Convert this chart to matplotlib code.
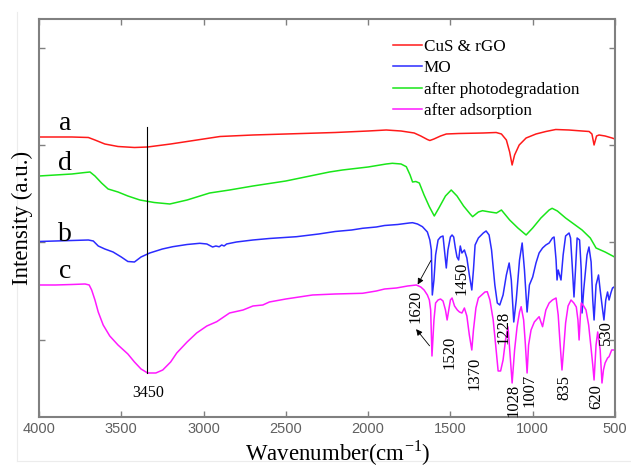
import numpy as np
import matplotlib
matplotlib.use("Agg")
from matplotlib import pyplot as plt
from matplotlib.lines import Line2D

plt.rcParams['font.family'] = ['Liberation Serif', 'DejaVu Serif']

# --- spectra: wavenumber (cm-1), intensity (a.u., offset stacked) ---
wn_a = [4000, 3800, 3700, 3660, 3600, 3520, 3420, 3340, 3200, 3000, 2900, 2700, 2400, 2200,
        2000, 1890, 1800, 1720, 1680, 1640, 1625, 1600, 1560, 1525, 1450, 1300, 1222, 1190,
        1160, 1140, 1125, 1110, 1082, 1040, 980, 920, 860, 780, 700, 657, 640, 627, 612, 597,
        560, 518, 500]
int_a = [280, 280, 279.5, 277, 273, 270.5, 269.5, 270, 273, 278, 280.5, 282, 283.5, 284.5,
         286, 287, 286, 284, 281, 277.5, 276.5, 278, 281, 283, 283.5, 284, 284.5, 283,
         277, 265, 252, 262, 272, 279, 283, 285.5, 287.5, 287, 286, 285.5, 283, 272, 281, 282,
         281, 279, 278]

wn_d = [4000, 3900, 3800, 3720, 3690, 3660, 3620, 3580, 3520, 3460, 3387, 3300, 3205, 3100,
        2963, 2842, 2700, 2500, 2235, 2156, 2000, 1890, 1853, 1800, 1768, 1745, 1730, 1710,
        1689, 1660, 1628, 1598, 1570, 1530, 1495, 1460, 1420, 1380, 1365, 1330, 1305, 1260,
        1220, 1190, 1140, 1090, 1040, 1000, 950, 900, 882, 850, 800, 750, 700, 650, 615, 560,
        506, 500]
int_d = [241, 242, 243, 244.5, 245, 241, 234, 228, 225, 221, 217, 214.5, 213, 217,
         224, 227, 231, 236, 245, 247, 250, 253, 253.7, 253, 250.3, 242, 235, 235.5,
         234, 222, 210.3, 201, 209, 221, 227, 221, 211, 203, 200.3, 205, 206.3, 205,
         204, 207, 197, 189, 182, 189, 199, 207, 208.7, 206, 199, 193, 187, 179, 169, 165,
         160.3, 160]

wn_b = [4000, 3900, 3800, 3700, 3670, 3640, 3600, 3550, 3500, 3460, 3420, 3380, 3327, 3250,
        3187, 3100, 3023, 2980, 2945, 2925, 2905, 2890, 2875, 2860, 2800, 2700, 2600, 2435,
        2300, 2200, 2100, 2034, 1950, 1900, 1820, 1750, 1730, 1700, 1670, 1640, 1625, 1616,
        1610, 1600, 1590, 1575, 1560, 1545, 1535, 1525, 1515, 1500, 1490, 1480, 1470, 1460,
        1450, 1440, 1430, 1415, 1400, 1385, 1370, 1360, 1350, 1330, 1300, 1283, 1265, 1250,
        1230, 1215, 1200, 1180, 1160, 1143, 1130, 1115, 1100, 1080, 1064, 1050, 1034, 1020,
        1000, 980, 961, 940, 920, 900, 880, 870, 858, 852, 845, 828, 815, 800, 779, 770, 760,
        749, 740, 730, 715, 705, 700, 690, 670, 658, 645, 635, 627, 615, 600, 590, 575, 567,
        556, 545, 536, 525, 515, 506, 500]
int_b = [175.5, 176, 176.5, 177, 176, 171, 168, 165, 160, 155.5, 155, 160, 164, 168,
         170.3, 172.5, 173.7, 173, 170, 171, 170.2, 172, 171, 173, 175, 177, 178.5, 180.3,
         183, 185.5, 187, 188.7, 190, 191.5, 192.5, 194, 194.3, 193, 190.3, 185, 177, 167,
         122, 137, 162, 177, 180, 181, 165, 149, 167, 180, 182, 180, 169, 160,
         157, 171, 164, 167, 159, 142, 127, 147, 172, 179, 184, 186, 182, 167,
         132, 114, 112, 122, 142, 154, 137, 95, 117, 157, 174, 147, 105, 132,
         140, 154, 164, 169, 172, 174, 179, 180, 157, 137, 147, 137, 162, 181, 184, 179, 152,
         120, 147, 179, 177, 147, 104, 127, 162, 170, 155, 117, 97, 132, 142, 127, 107, 97,
         117, 125, 117, 124, 129, 130, 128]

wn_c = [4000, 3900, 3800, 3720, 3695, 3680, 3660, 3640, 3610, 3570, 3520, 3460, 3420, 3380,
        3340, 3290, 3248, 3200, 3163, 3100, 3042, 2980, 2920, 2842, 2760, 2700, 2640, 2600,
        2500, 2338, 2200, 2034, 1950, 1900, 1828, 1760, 1707, 1680, 1660, 1640, 1628, 1620,
        1612, 1600, 1590, 1575, 1560, 1545, 1530, 1520, 1510, 1500, 1490, 1475, 1458, 1445,
        1430, 1415, 1400, 1385, 1370, 1360, 1345, 1330, 1310, 1290, 1276, 1260, 1240, 1225,
        1210, 1195, 1180, 1165, 1150, 1135, 1125, 1110, 1095, 1080, 1070, 1055, 1045, 1034,
        1025, 1010, 990, 961, 950, 940, 920, 900, 880, 858, 845, 835, 822, 810, 800, 785, 767,
        750, 735, 725, 718, 710, 705, 690, 676, 660, 646, 635, 627, 615, 605, 590, 579, 570,
        560, 545, 536, 520, 505, 500]
int_c = [132, 132, 132.5, 133, 132, 127, 117, 105, 92, 81, 72, 63, 55, 48,
         44, 44, 47, 55, 64, 75, 84, 91, 95.3, 104, 107, 111, 112, 115,
         118, 122, 123, 123.7, 126, 128, 129, 131, 132, 130, 127, 122, 117, 107,
         61, 97, 114, 117, 118, 116, 107, 97, 107, 117, 119, 111, 107, 105,
         104, 109, 101, 82, 67, 87, 109, 119, 122, 125, 125.3, 117, 97, 72,
         46, 46, 57, 77, 90, 57, 34, 67, 90, 105, 110.3, 97, 74, 44,
         72, 87, 95, 100.3, 95, 90.3, 107, 114, 117, 119, 102, 77, 47, 72, 94, 111, 117,
         114, 110, 97, 77, 102, 114, 111, 107, 92, 70, 52, 37, 72, 85, 67, 34, 47,
         54, 59, 60.3, 67, 67, 67]

# peak labels (rotated), positions in data coords
peak_text = ['1450', '1520', '1370', '1228', '1028', '1007', '835', '620', '530']
peak_x = [1434, 1507, 1355, 1179, 1119, 1022, 809, 615, 555]
peak_y = [139, 65, 44, 90, 17, 27, 29, 20, 84]

curve_names = ['CuS & rGO', 'MO', 'after photodegradation', 'after adsorption']
curve_letters = ['a', 'd', 'b', 'c']
letter_y = [287, 247, 176, 139]

fig = plt.figure(figsize=(6.31, 4.68), dpi=100)
ax = fig.add_axes([0.0618, 0.109, 0.9128, 0.8504])

l1, = ax.plot(wn_a, int_a, color='#ff1a1a', lw=1.1)
l2, = ax.plot(wn_b, int_b, color='#2b2bff', lw=1.1)
l3, = ax.plot(wn_d, int_d, color='#19e619', lw=1.1)
l4, = ax.plot(wn_c, int_c, color='#ff19ff', lw=1.1)

ax.set_xlim(4000, 500)
ax.set_ylim(0, 398)
ax.set_xticks(np.arange(4000, 499, -500))
ax.set_yticks([77, 175, 272, 369])
ax.set_yticklabels([])
ax.tick_params(direction='in', top=True, right=True, length=4, width=1,
               color='#808080', labelcolor='#606060', labelsize=10.5)
for lab in ax.get_xticklabels():
    lab.set_family('Liberation Sans')
for sp in ax.spines.values():
    sp.set_color('#808080')
    sp.set_linewidth(1.5)

ax.set_xlabel('Wavenumber(cm$^{\\mathregular{-1}}$)', fontsize=16.5)
ax.xaxis.set_label_coords(0.519, -0.055)
ax.set_ylabel('Intensity (a.u.)', fontsize=16.5, labelpad=1)

for t, yv in zip(curve_letters, letter_y):
    ax.text(3842, yv, t, fontsize=20, ha='center', va='baseline')

# 3450 marker line
ax.plot([3345, 3345], [44, 290], color='black', lw=0.8)
ax.text(3339, 24, '3450', fontsize=11.5, ha='center', va='center')

# 1620 with two arrows
ax.text(1712, 111, '1620', fontsize=12, rotation=90, ha='center', va='center')
ax.annotate('', xy=(1707, 130), xytext=(1610, 159),
            arrowprops=dict(arrowstyle='-|>', color='black', lw=0.6, mutation_scale=9))
ax.annotate('', xy=(1719, 90), xytext=(1616, 69),
            arrowprops=dict(arrowstyle='-|>', color='black', lw=0.6, mutation_scale=9))

for t, xv, yv in zip(peak_text, peak_x, peak_y):
    ax.text(xv, yv, t, fontsize=12, rotation=90, ha='center', va='center')

leg = ax.legend([l1, l2, l3, l4], curve_names, loc='upper left',
                bbox_to_anchor=(0.623, 0.916), bbox_transform=fig.transFigure,
                frameon=False, fontsize=12.3, handlelength=1.7, handletextpad=0.1,
                labelspacing=0.3, borderpad=0, borderaxespad=0)

# faint outer border as in the source image (kept behind the text)
fig.add_artist(Line2D([17 / 631, 17 / 631], [1 - 12 / 468, 1 - 461 / 468],
                      transform=fig.transFigure, color='#ececec', lw=0.8, zorder=0))
fig.add_artist(Line2D([17 / 631, 1], [1 - 461 / 468, 1 - 461 / 468],
                      transform=fig.transFigure, color='#ececec', lw=0.8, zorder=0))

fig.savefig('out.png', dpi=100)
